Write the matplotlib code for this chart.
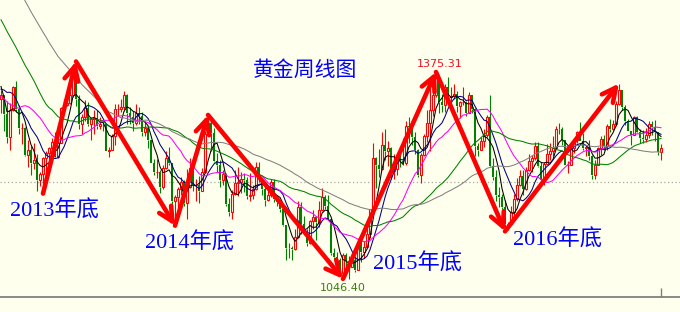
import numpy as np
import pandas as pd
import matplotlib
matplotlib.use("Agg")
import matplotlib.pyplot as plt

plt.rcParams['font.family'] = ['DejaVu Sans', 'Noto Sans CJK SC']

# weekly closes before the first drawn candle (Aug 2012 - Sep 2013), only used for the moving averages
pre_close = [1604, 1620, 1616, 1671, 1692,
             1740, 1770, 1773, 1772,
             1780, 1757, 1724, 1712,
             1676, 1731, 1714, 1752, 1712,
             1702, 1696, 1657, 1656,
             1656, 1661, 1687, 1658,
             1667, 1667, 1609, 1572,
             1576, 1577, 1592, 1607, 1596,
             1581, 1476, 1405, 1462,
             1470, 1435, 1365, 1387, 1393,
             1383, 1388, 1297, 1234,
             1223, 1277, 1295, 1322,
             1310, 1313, 1377, 1396, 1396,
             1387, 1308, 1333]

# weekly candles, Sep 2013 - Dec 2017 (open = previous close)
close = [1338, 1309, 1272, 1315, 1352, 1316, 1287, 1287, 1244, 1251,
         1230, 1236, 1204, 1213, 1238, 1247, 1254, 1264, 1240, 1262,
         1318, 1323, 1326, 1338, 1379, 1333, 1293, 1303, 1318, 1293,
         1300, 1302, 1289, 1293, 1292, 1250, 1252, 1274, 1316, 1316,
         1320, 1338, 1310, 1303, 1294, 1310, 1306, 1280, 1287, 1268,
         1231, 1216, 1216, 1192, 1222, 1238, 1231, 1171, 1177, 1189,
         1201, 1167, 1192, 1222, 1195, 1196, 1186, 1216, 1277, 1294,
         1279, 1234, 1228, 1204, 1213, 1166, 1153, 1181, 1199, 1201,
         1206, 1204, 1178, 1179, 1189, 1225, 1205, 1190, 1172, 1180,
         1201, 1174, 1168, 1157, 1132, 1096, 1095, 1094, 1113, 1160,
         1134, 1121, 1103, 1138, 1145, 1137, 1156, 1177, 1163, 1142,
         1088, 1081, 1076, 1056, 1085, 1075, 1065, 1076, 1061, 1104,
         1089, 1097, 1117, 1158, 1239, 1227, 1221, 1260, 1249, 1255,
         1218, 1221, 1240, 1234, 1230, 1290, 1288, 1272, 1252, 1212,
         1243, 1274, 1294, 1315, 1339, 1366, 1327, 1323, 1351, 1335,
         1337, 1340, 1321, 1327, 1328, 1310, 1338, 1316, 1257, 1251,
         1266, 1275, 1304, 1226, 1208, 1179, 1177, 1160, 1134, 1134,
         1152, 1173, 1196, 1210, 1190, 1220, 1234, 1238, 1257, 1226,
         1203, 1229, 1245, 1249, 1254, 1285, 1284, 1268, 1228, 1228,
         1254, 1267, 1280, 1266, 1254, 1256, 1242, 1212, 1228, 1255,
         1269, 1258, 1289, 1285, 1292, 1325, 1347, 1320, 1298, 1282,
         1275, 1304, 1280, 1271, 1269, 1275, 1293, 1288, 1280, 1248,
         1255]
high = [1347, 1338, 1329, 1326, 1353, 1361, 1323, 1294, 1288, 1267,
        1257, 1262, 1245, 1216, 1240, 1249, 1256, 1270, 1280, 1271,
        1320, 1332, 1345, 1355, 1388, 1392, 1338, 1308, 1331, 1328,
        1304, 1315, 1315, 1304, 1296, 1293, 1256, 1277, 1325, 1325,
        1332, 1345, 1340, 1320, 1313, 1324, 1320, 1312, 1297, 1288,
        1268, 1237, 1237, 1220, 1227, 1250, 1256, 1231, 1180, 1193,
        1208, 1203, 1221, 1239, 1225, 1205, 1210, 1223, 1282, 1307,
        1297, 1287, 1247, 1235, 1220, 1215, 1175, 1187, 1219, 1224,
        1216, 1214, 1209, 1214, 1196, 1232, 1232, 1206, 1199, 1194,
        1205, 1205, 1180, 1170, 1159, 1132, 1104, 1099, 1126, 1170,
        1169, 1146, 1126, 1140, 1156, 1147, 1170, 1191, 1179, 1180,
        1142, 1095, 1089, 1080, 1088, 1088, 1082, 1088, 1082, 1112,
        1109, 1106, 1129, 1158, 1263, 1240, 1253, 1280, 1284, 1266,
        1256, 1245, 1243, 1245, 1270, 1297, 1303, 1288, 1280, 1253,
        1246, 1277, 1315, 1362, 1350, 1375.31, 1368, 1340, 1357, 1368,
        1352, 1357, 1345, 1329, 1352, 1330, 1343, 1339, 1318, 1262,
        1272, 1284, 1307, 1338, 1239, 1220, 1193, 1181, 1172, 1137,
        1163, 1182, 1207, 1220, 1220, 1225, 1245, 1244, 1264, 1264,
        1232, 1233, 1261, 1262, 1273, 1289, 1295, 1288, 1268, 1234,
        1262, 1271, 1282, 1296, 1278, 1260, 1268, 1243, 1236, 1256,
        1274, 1275, 1292, 1301, 1299, 1330, 1357, 1347, 1323, 1301,
        1282, 1306, 1306, 1284, 1283, 1287, 1297, 1298, 1299, 1280,
        1261]
low = [1310, 1282, 1262, 1251, 1313, 1311, 1276, 1261, 1241, 1225,
       1211, 1221, 1186, 1194, 1182, 1212, 1233, 1236, 1238, 1239,
       1262, 1311, 1322, 1324, 1335, 1321, 1285, 1277, 1297, 1290,
       1268, 1277, 1284, 1284, 1282, 1249, 1240, 1251, 1260, 1305,
       1311, 1313, 1292, 1292, 1281, 1291, 1293, 1273, 1274, 1254,
       1230, 1211, 1207, 1183, 1190, 1221, 1227, 1160, 1131, 1145,
       1180, 1162, 1142, 1191, 1186, 1170, 1167, 1186, 1215, 1276,
       1250, 1232, 1216, 1192, 1196, 1163, 1147, 1142, 1180, 1178,
       1183, 1185, 1174, 1170, 1174, 1187, 1201, 1180, 1162, 1171,
       1176, 1168, 1162, 1152, 1131, 1077, 1080, 1077, 1092, 1111,
       1118, 1117, 1098, 1102, 1125, 1108, 1129, 1155, 1158, 1140,
       1085, 1077, 1062, 1053, 1046.40, 1064, 1047, 1065, 1058, 1061,
       1074, 1079, 1095, 1112, 1157, 1191, 1208, 1219, 1236, 1226,
       1206, 1206, 1211, 1225, 1227, 1227, 1262, 1259, 1245, 1208,
       1199, 1241, 1264, 1250, 1305, 1335, 1310, 1311, 1312, 1332,
       1330, 1333, 1312, 1302, 1323, 1306, 1310, 1310, 1242, 1241,
       1251, 1256, 1272, 1224, 1204, 1171, 1161, 1157, 1122, 1124,
       1132, 1145, 1171, 1194, 1180, 1188, 1218, 1216, 1235, 1225,
       1194, 1196, 1229, 1236, 1242, 1253, 1276, 1260, 1227, 1214,
       1228, 1247, 1262, 1265, 1251, 1242, 1236, 1206, 1205, 1227,
       1244, 1251, 1251, 1280, 1283, 1290, 1323, 1315, 1291, 1281,
       1260, 1275, 1278, 1263, 1263, 1264, 1271, 1275, 1266, 1243,
       1236]

ma_periods = [5, 10, 20, 40, 60]
ma_colors = ['#000000', '#000080', '#FF00FF', '#008000', '#808080']

# turning points joined by the red arrows: (week, 'low'/'high')
pivots = [(14, 'low'), (25, 'high'), (58, 'low'), (69, 'high'),
          (114, 'low'), (145, 'high'), (168, 'low'), (206, 'high')]

year_labels = ['2013年底', '2014年底', '2015年底', '2016年底']
title = '黄金周线图'

bg = '#FFFFEE'
up_color = '#FF0000'
down_color = '#008000'

close = np.array(close, dtype=float)
high = np.array(high, dtype=float)
low = np.array(low, dtype=float)
opens = np.r_[pre_close[-1], close[:-1]]
n = len(close)
x = np.arange(n)

fig = plt.figure(figsize=(6.8, 3.12), dpi=100)
fig.patch.set_facecolor(bg)
ax = fig.add_axes([0, 15 / 312, 1, 297 / 312])
ax.set_facecolor(bg)

# candles
up = close >= opens
body_lo = np.minimum(opens, close)
body_hi = np.maximum(opens, close)
cols = np.where(up, up_color, down_color)
ax.vlines(x, low, body_lo, colors=cols, lw=0.8, zorder=2)
ax.vlines(x, body_hi, high, colors=cols, lw=0.8, zorder=2)
ax.bar(x[up], (body_hi - body_lo)[up], bottom=body_lo[up], width=0.68,
       facecolor=bg, edgecolor=up_color, linewidth=0.8, zorder=3)
ax.bar(x[~up], (body_hi - body_lo)[~up], bottom=body_lo[~up], width=0.75,
       color=down_color, linewidth=0, zorder=3)

# moving averages
full = pd.Series(list(pre_close) + list(close))
for p, c in zip(ma_periods, ma_colors):
    ma = full.rolling(p).mean().values[len(pre_close):]
    ax.plot(x, ma, color=c, lw=0.75, zorder=4)

ax.axhline(1200, color='#A8A8A8', lw=0.9, ls=(0, (1, 2)), zorder=1)

# red arrows between turning points
pts = [(w, low[w] if k == 'low' else high[w]) for w, k in pivots]
for (x0, y0), (x1, y1) in zip(pts[:-1], pts[1:]):
    ax.annotate('', xy=(x1, y1), xytext=(x0, y0),
                arrowprops=dict(arrowstyle='->,head_length=1.0,head_width=0.5',
                                color='#FF0000', lw=3.3, shrinkA=0, shrinkB=0,
                                mutation_scale=10), zorder=5)

ax.set_xlim(-1 / 3, 679 / 3)
ax.set_ylim(1017.6, 1489.8)
for s in ['left', 'right', 'top']:
    ax.spines[s].set_visible(False)
ax.spines['bottom'].set_color('#808080')
ax.spines['bottom'].set_linewidth(1.3)
ax.set_yticks([])
ax.set_xticks([n - 1])
ax.set_xticklabels([])
ax.tick_params(axis='x', direction='in', length=6.5, color='#808080', width=1)

# texts
fig.text(305 / 680, 1 - 70 / 312, title, ha='center', va='center',
         color='#0000FF', fontsize=15, fontweight='medium',
         family=['Noto Sans CJK SC'])
label_pos = [(54, 211), (190, 243), (417, 264), (558, 240)]
for t, (px, py) in zip(year_labels, label_pos):
    fig.text(px / 680, 1 - py / 312, t, ha='center', va='center',
             color='#0000FF', fontsize=16,
             family=['Liberation Serif', 'Noto Sans CJK SC'])

fig.text(440 / 680, 1 - 64 / 312, f'{high[145]:.2f}', ha='center', va='center',
         color='#F01020', fontsize=8, family=['DejaVu Sans'])
fig.text(343 / 680, 1 - 288 / 312, f'{low[114]:.2f}', ha='center', va='center',
         color='#3A7D14', fontsize=8, family=['DejaVu Sans'])

fig.savefig('out.png', dpi=100, facecolor=bg)
